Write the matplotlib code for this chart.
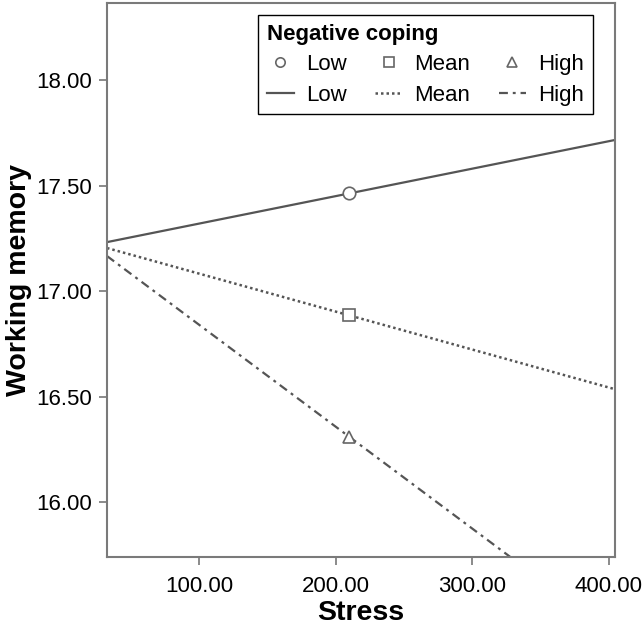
import matplotlib
matplotlib.use("Agg")
import matplotlib.pyplot as plt

plt.rcParams['font.family'] = ['Liberation Sans', 'DejaVu Sans']

# Data
groups = ["Low", "Mean", "High"]
line_x = [32.7, 404.4]
line_low = [17.232, 17.716]
line_mean = [17.204, 16.535]
line_high = [17.166, 15.37]
marker_x = [210.0, 210.0, 210.0]
marker_y = [17.465, 16.885, 16.31]
xticks = [100, 200, 300, 400]
yticks = [16.0, 16.5, 17.0, 17.5, 18.0]

W, H = 642, 629
fig = plt.figure(figsize=(W / 100, H / 100), dpi=100)
ax = fig.add_axes([107 / W, 1 - 557 / H, (615 - 107) / W, (557 - 3) / H])

col = "#555555"
ls_styles = ["-", (0, (1.0, 1.2)), (0, (4, 2.2, 1.3, 2.2))]
lws = [1.6, 1.8, 1.6]
lines_y = [line_low, line_mean, line_high]
markers = ["o", "s", "^"]

line_handles = []
for y, ls, lw in zip(lines_y, ls_styles, lws):
    h, = ax.plot(line_x, y, color=col, lw=lw, ls=ls)
    line_handles.append(h)

marker_handles = []
for xm, ym, mk in zip(marker_x, marker_y, markers):
    h, = ax.plot([xm], [ym], ls="none", marker=mk, ms=9, mfc="white",
                 mec="#666666", mew=1.2)
    marker_handles.append(h)

ax.set_xlim(32.7, 404.4)
ax.set_ylim(15.74, 18.365)
ax.set_xticks(xticks)
ax.set_xticklabels([f"{v:.2f}" for v in xticks])
ax.set_yticks(yticks)
ax.set_yticklabels([f"{v:.2f}" for v in yticks])
ax.tick_params(direction="out", length=6, width=1.2, color="#777777",
               labelsize=16)
ax.tick_params(axis="x", pad=8)
ax.tick_params(axis="y", pad=5)
for s in ax.spines.values():
    s.set_color("#7a7a7a")
    s.set_linewidth(1.5)

ax.set_xlabel("Stress", fontsize=20.5, fontweight="bold", labelpad=2)
ax.set_ylabel("Working memory", fontsize=20.5, fontweight="bold", labelpad=3)

handles = []
labels = []
for i in range(3):
    handles += [marker_handles[i], line_handles[i]]
    labels += [groups[i], groups[i]]

leg = ax.legend(handles, labels, ncol=3, title="Negative coping",
                loc="upper left", bbox_to_anchor=(258 / W, 1 - 15 / H),
                bbox_transform=fig.transFigure, fontsize=16,
                title_fontproperties={"weight": "bold", "size": 16},
                alignment="left", fancybox=False, framealpha=1,
                edgecolor="black", handlelength=1.2, handletextpad=0.55,
                columnspacing=1.3, labelspacing=0.42, borderpad=0.4,
                borderaxespad=0, markerscale=0.75)
leg.get_frame().set_linewidth(1.0)

fig.savefig("out.png", dpi=100)
